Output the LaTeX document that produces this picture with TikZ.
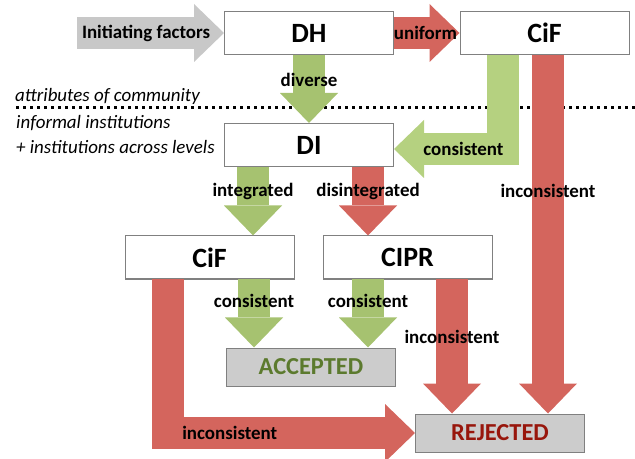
\documentclass[tikz,border=0pt]{standalone}
\usepackage{fontspec}
\setmainfont{Carlito}
\usetikzlibrary{arrows.meta}

\definecolor{redarr}{RGB}{212,101,93}
\definecolor{greenarr}{RGB}{166,194,112}
\definecolor{greenlt}{RGB}{181,209,128}
\definecolor{initgray}{RGB}{200,200,200}
\definecolor{boxline}{RGB}{128,128,128}
\definecolor{endfill}{RGB}{204,204,204}
\definecolor{accgreen}{RGB}{92,122,46}
\definecolor{rejred}{RGB}{152,22,12}

\begin{document}
\begin{tikzpicture}[x=1bp, y=-1bp,
    box/.style={draw=boxline, line width=1bp, fill=white, minimum width=169bp, minimum height=43bp, inner sep=0pt, font=\fontsize{28}{30}\selectfont\bfseries},
    endbox/.style={box, fill=endfill, minimum height=38bp, font=\fontsize{24.5}{26}\selectfont\bfseries},
    fat/.style={line width=32bp, -{Triangle[width=58bp, length=30bp, line width=0pt]}},
    lab/.style={font=\fontsize{19}{21}\selectfont\bfseries, text=black, inner sep=0pt},
    note/.style={font=\fontsize{19}{21}\selectfont\itshape, anchor=west, inner sep=0pt}]
    \useasboundingbox (0,0) rectangle (635,459);

    % Linea di separazione e testi a sinistra
    \draw[line width=3bp, dash pattern=on 3bp off 4bp] (16,107.5) -- (635,107.5);
    \node[note] (attr_txt) at (15,96) {attributes of community};
    \node[note] (inf_txt) at (16,123) {informal institutions};
    \node[note] (lev_txt) at (16,147) {+ institutions across levels};

    % Riquadri
    \node[box] (dh_box) at (309,33) {DH};
    \node[box] (cif_top) at (544.5,33) {CiF};
    \node[box] (di_box) at (309,145) {DI};
    \node[box] (cif_mid) at (209.5,257.5) {CiF};
    \node[box] (cipr_box) at (407.5,257.5) {CIPR};
    \node[endbox, text=accgreen] (acc_box) at (311,367) {ACCEPTED};
    \node[endbox, text=rejred] (rej_box) at (500,433) {REJECTED};

    % Frecce in alto
    \coordinate (init_start) at (77,33);
    \draw[fat, initgray] (init_start) -- (dh_box.west) node[lab, pos=0.47] {Initiating factors};
    \draw[fat, redarr] (dh_box.east) -- (cif_top.west) node[lab, pos=0.48] {uniform};
    \draw[fat, greenarr] (dh_box.south) -- (di_box.north) node[lab, pos=0.37] {diverse};
    \draw[fat, greenlt] ([xshift=-42bp]cif_top.south) |- ([yshift=-4bp]di_box.east) node[lab, pos=0.68] {consistent};
    \draw[fat, redarr] ([xshift=3.5bp]cif_top.south) -- ([xshift=3.5bp]cif_top.south |- rej_box.north) node[lab, pos=0.38] {inconsistent};

    % Frecce da DI
    \draw[fat, greenarr] ([xshift=-56bp]di_box.south) -- ([xshift=-56bp]di_box.south |- cif_mid.north) node[lab, pos=0.35] {integrated};
    \draw[fat, redarr] ([xshift=59bp]di_box.south) -- ([xshift=59bp]di_box.south |- cipr_box.north) node[lab, pos=0.35] {disintegrated};

    % Frecce verso ACCEPTED e REJECTED
    \draw[fat, greenarr] ([xshift=44.5bp]cif_mid.south) -- ([xshift=44.5bp]cif_mid.south |- acc_box.north) node[lab, pos=0.32] {consistent};
    \draw[fat, greenarr] ([xshift=-39.5bp]cipr_box.south) -- ([xshift=-39.5bp]cipr_box.south |- acc_box.north) node[lab, pos=0.32] {consistent};
    \draw[fat, redarr] ([xshift=44.5bp]cipr_box.south) -- ([xshift=44.5bp]cipr_box.south |- rej_box.north) node[lab, pos=0.43] {inconsistent};
    \draw[fat, redarr] ([xshift=-41.5bp]cif_mid.south) |- (rej_box.west) node[lab, pos=0.625] {inconsistent};
\end{tikzpicture}
\end{document}
